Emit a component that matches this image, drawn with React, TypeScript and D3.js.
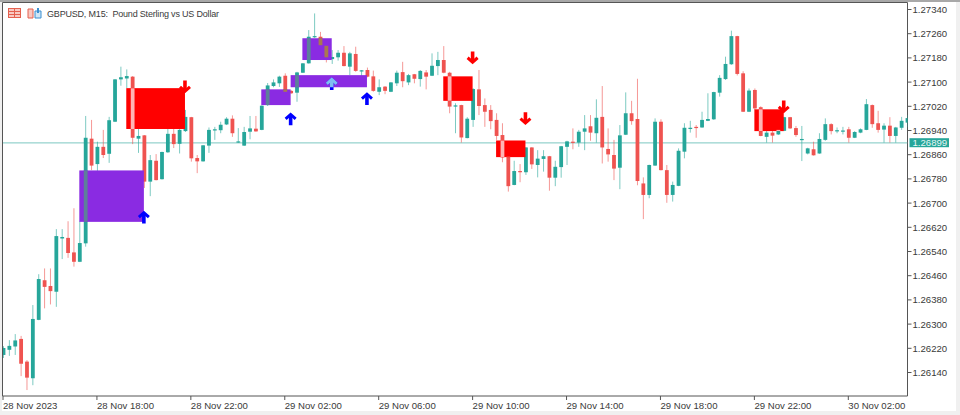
import React from "react";
import * as d3 from "d3";

const W = 960, H = 415;
const plotL = 3, plotR = 907.5, plotT = 3, plotB = 396;

const symbol = "GBPUSD, M15:  Pound Sterling vs US Dollar";
const lastPrice = 1.26899;

const priceTicks = [1.2734,1.2726,1.2718,1.271,1.2702,1.2694,1.2686,1.2678,1.267,1.2662,1.2654,1.2646,1.2638,1.263,1.2622,1.2614];
const timeTickIndex = [0,16,32,48,64,80,96,112,128,144];
const timeTickLabels = ["28 Nov 2023","28 Nov 18:00","28 Nov 22:00","29 Nov 02:00","29 Nov 06:00","29 Nov 10:00","29 Nov 14:00","29 Nov 18:00","29 Nov 22:00","30 Nov 02:00"];

const opens = [
1.26198,1.26215,1.26226,1.26251,1.26176,1.26121,1.26314,1.26445,1.26426,1.26407,1.26583,1.26585,1.26537,1.26506,1.26567,1.26913,
1.26829,1.26886,1.26863,1.26969,1.27109,1.27112,1.27118,1.26913,1.26924,1.26771,1.26840,1.26779,1.26868,1.26929,1.26896,1.26938,
1.26984,1.26849,1.26838,1.26890,1.26941,1.26941,1.26960,1.26979,1.26900,1.26890,1.26936,1.26946,1.26942,1.27024,1.27087,1.27096,
1.27121,1.27071,1.27065,1.27131,1.27162,1.27250,1.27250,1.27220,1.27176,1.27182,1.27197,1.27151,1.27193,1.27137,1.27140,1.27119,
1.27068,1.27085,1.27068,1.27096,1.27133,1.27099,1.27126,1.27110,1.27132,1.27121,1.27153,1.27173,1.27131,1.27021,1.27024,1.26915,
1.26975,1.27076,1.27024,1.27008,1.26975,1.26925,1.26853,1.26760,1.26806,1.26802,1.26884,1.26826,1.26846,1.26855,1.26784,1.26819,
1.26886,1.26903,1.26900,1.26936,1.26954,1.26931,1.26985,1.26879,1.26859,1.26817,1.26926,1.26997,1.26978,1.26765,1.26727,1.26824,
1.26969,1.26809,1.26727,1.26757,1.26870,1.26947,1.26952,1.26950,1.26972,1.26977,1.27065,1.27110,1.27159,1.27252,1.27129,1.27002,
1.27074,1.27017,1.26919,1.26933,1.26927,1.26939,1.26984,1.26948,1.26909,1.26864,1.26878,1.26864,1.26909,1.26961,1.26937,1.26937,
1.26944,1.26916,1.26933,1.26942,1.27024,1.26964,1.26943,1.26956,1.26922,1.26949,1.26966];
const highs = [
1.26227,1.26247,1.26267,1.26261,1.26181,1.26363,1.26465,1.26484,1.26484,1.26614,1.26614,1.26640,1.26683,1.26640,1.26988,1.26975,
1.26903,1.26942,1.26985,1.27110,1.27151,1.27142,1.27120,1.26948,1.26925,1.26859,1.26862,1.26870,1.26948,1.26948,1.26952,1.27008,
1.26985,1.26859,1.26892,1.26950,1.26952,1.26969,1.26984,1.26990,1.26948,1.26952,1.26988,1.26988,1.27023,1.27097,1.27109,1.27121,
1.27129,1.27074,1.27134,1.27163,1.27272,1.27327,1.27266,1.27239,1.27206,1.27206,1.27219,1.27200,1.27217,1.27140,1.27148,1.27138,
1.27109,1.27087,1.27100,1.27138,1.27167,1.27127,1.27127,1.27140,1.27140,1.27195,1.27200,1.27219,1.27134,1.27030,1.27025,1.26984,
1.27080,1.27140,1.27046,1.27024,1.26997,1.26964,1.26889,1.26840,1.26829,1.26885,1.26885,1.26875,1.26875,1.26856,1.26840,1.26889,
1.26906,1.26947,1.26942,1.26991,1.26991,1.27043,1.27087,1.26947,1.26909,1.26958,1.27066,1.27038,1.27111,1.26785,1.26827,1.26980,
1.26977,1.26826,1.26771,1.26881,1.26964,1.26972,1.26958,1.27002,1.27063,1.27068,1.27123,1.27184,1.27270,1.27253,1.27136,1.27079,
1.27079,1.27020,1.26942,1.26944,1.26947,1.26985,1.26985,1.26955,1.26955,1.26883,1.26903,1.26931,1.26980,1.26964,1.26950,1.26952,
1.26952,1.26938,1.26947,1.27044,1.27026,1.27005,1.26964,1.26984,1.26952,1.26985,1.26991];
const lows = [
1.26188,1.26195,1.26198,1.26128,1.26082,1.26098,1.26313,1.26352,1.26365,1.26357,1.26515,1.26519,1.26490,1.26505,1.26556,1.26809,
1.26776,1.26849,1.26833,1.26968,1.27088,1.27080,1.26895,1.26866,1.26750,1.26723,1.26775,1.26778,1.26866,1.26882,1.26864,1.26935,
1.26837,1.26799,1.26837,1.26866,1.26909,1.26931,1.26958,1.26919,1.26899,1.26889,1.26911,1.26936,1.26941,1.27021,1.27083,1.27084,
1.27041,1.27061,1.27035,1.27130,1.27161,1.27246,1.27221,1.27165,1.27160,1.27171,1.27152,1.27123,1.27134,1.27113,1.27116,1.27068,
1.27057,1.27060,1.27067,1.27087,1.27083,1.27090,1.27096,1.27085,1.27076,1.27120,1.27123,1.27129,1.26997,1.26931,1.26900,1.26914,
1.26952,1.26991,1.26952,1.26944,1.26909,1.26835,1.26738,1.26759,1.26769,1.26793,1.26813,1.26785,1.26804,1.26741,1.26756,1.26784,
1.26826,1.26878,1.26886,1.26875,1.26906,1.26900,1.26831,1.26837,1.26776,1.26746,1.26925,1.26959,1.26759,1.26647,1.26716,1.26823,
1.26808,1.26701,1.26705,1.26756,1.26848,1.26933,1.26916,1.26949,1.26971,1.26975,1.27052,1.27107,1.27157,1.27122,1.27001,1.27001,
1.27008,1.26921,1.26900,1.26900,1.26925,1.26938,1.26945,1.26919,1.26839,1.26861,1.26857,1.26863,1.26906,1.26927,1.26931,1.26927,
1.26900,1.26915,1.26931,1.26941,1.26949,1.26933,1.26900,1.26900,1.26900,1.26942,1.26951];
const closes = [
1.26221,1.26228,1.26246,1.26169,1.26123,1.26317,1.26449,1.26423,1.26409,1.26591,1.26588,1.26535,1.26506,1.26568,1.26916,1.26824,
1.26886,1.26859,1.26974,1.27109,1.27116,1.27120,1.26916,1.26922,1.26771,1.26842,1.26776,1.26869,1.26929,1.26895,1.26942,1.26985,
1.26848,1.26838,1.26891,1.26942,1.26944,1.26959,1.26979,1.26931,1.26904,1.26935,1.26947,1.26937,1.27022,1.27089,1.27099,1.27118,
1.27068,1.27063,1.27132,1.27162,1.27250,1.27252,1.27222,1.27182,1.27183,1.27197,1.27153,1.27195,1.27137,1.27139,1.27118,1.27071,
1.27083,1.27071,1.27099,1.27131,1.27103,1.27123,1.27111,1.27137,1.27118,1.27154,1.27173,1.27131,1.27019,1.27023,1.26917,1.26979,
1.27077,1.27021,1.27002,1.26971,1.26922,1.26851,1.26756,1.26806,1.26802,1.26884,1.26828,1.26847,1.26855,1.26784,1.26820,1.26888,
1.26904,1.26900,1.26936,1.26947,1.26933,1.26982,1.26884,1.26861,1.26814,1.26924,1.26997,1.26971,1.26773,1.26727,1.26826,1.26969,
1.26809,1.26727,1.26760,1.26873,1.26949,1.26949,1.26948,1.26975,1.26978,1.27067,1.27114,1.27160,1.27252,1.27127,1.27002,1.27072,
1.27013,1.26922,1.26933,1.26923,1.26942,1.26984,1.26947,1.26925,1.26912,1.26881,1.26858,1.26912,1.26961,1.26938,1.26941,1.26940,
1.26916,1.26935,1.26944,1.27027,1.26961,1.26942,1.26956,1.26922,1.26950,1.26972,1.26981];

const boxFrom  = [13,44,49,51,21,75,84,128];
const boxTo    = [24,49,62,56,31,80,89,133];
const boxTop   = [1.26808,1.27076,1.27123,1.27245,1.27080,1.27119,1.26907,1.27010];
const boxBot   = [1.26638,1.27024,1.27083,1.27173,1.26945,1.27038,1.26852,1.26938];
const boxKind  = ["buy","buy","buy","buy","sell","sell","sell","sell"];

const arrowIndex = [24,49,56,62,31,80,89,133];
const arrowTip   = [1.26674,1.26999,1.27115,1.27066,1.27064,1.27160,1.26959,1.26998];
const arrowKind  = ["up","up","up","up","down","down","down","down"];
const arrowInBox = [false,false,true,false,false,false,false,false];

const GREEN = "#26a69a", RED = "#ef5350";
const FONT = "'Liberation Sans', Arial, sans-serif";

const x = d3.scaleLinear().domain([0, 154]).range([3.5, 907.5]);
const y = d3.scaleLinear().domain([1.2614, 1.2734]).range([372.5, 9.5]);

const candles = opens.map((o, i) => ({ i, o, h: highs[i], l: lows[i], c: closes[i], up: closes[i] >= o }));
const boxes = boxFrom.map((f, k) => ({ k, x0: x(f) - 0.5, x1: x(boxTo[k]) - 0.5, y0: y(boxTop[k]), y1: y(boxBot[k]), buy: boxKind[k] === "buy" }));

function ArrowShape({ color }: { color: string }) {
  return (
    <g fill="none" stroke={color} strokeLinejoin="miter">
      <path d="M0,2 L0,12.5" strokeWidth={3.6} />
      <path d="M-5,6.2 L0,1.8 L5,6.2" strokeWidth={3} />
    </g>
  );
}

export default function App() {
  return (
    <svg width={W} height={H} viewBox={`0 0 ${W} ${H}`} style={{ position: "absolute", left: 0, top: 0, background: "#ffffff" }} fontFamily={FONT}>
      <defs>
        <clipPath id="plot"><rect x={plotL} y={plotT} width={plotR - plotL} height={plotB - plotT} /></clipPath>
        {boxes.map(b => (
          <clipPath key={b.k} id={`box${b.k}`}><rect x={b.x0} y={b.y0} width={b.x1 - b.x0} height={b.y1 - b.y0} /></clipPath>
        ))}
      </defs>

      {/* window chrome */}
      <rect x={0} y={0} width={W} height={H} fill="#ffffff" />
      <rect x={0} y={0} width={2} height={H} fill="#f0f0f0" />
      <rect x={0} y={411} width={W} height={4} fill="#f0f0f0" />
      <rect x={956} y={0} width={4} height={H} fill="#f0f0f0" />
      <rect x={0} y={0} width={W} height={2} fill="#a8a8a8" />
      <path d={`M${plotL - 0.5},2.5 H${plotR} V${plotB} H${plotL - 0.5} Z`} fill="none" stroke="#555" strokeWidth={1} />

      <g clipPath="url(#plot)">
        <line x1={plotL} x2={plotR} y1={y(lastPrice)} y2={y(lastPrice)} stroke="#7cc8c1" strokeWidth={1} />
        {candles.map(c => {
          const col = c.up ? GREEN : RED;
          const top = y(Math.max(c.o, c.c));
          const bot = y(Math.min(c.o, c.c));
          return (
            <g key={c.i}>
              <line x1={x(c.i)} x2={x(c.i)} y1={y(c.h)} y2={y(c.l)} stroke={col} strokeOpacity={0.6} strokeWidth={1} />
              <rect x={x(c.i) - 1.9} width={3.8} y={top} height={Math.max(1.2, bot - top)} fill={col} />
            </g>
          );
        })}

        {boxes.map(b => (
          <rect key={b.k} x={b.x0} y={b.y0} width={b.x1 - b.x0} height={b.y1 - b.y0} fill={b.buy ? "#8a2be2" : "#ff0000"} />
        ))}

        {/* candle bodies seen through the rectangles (MT5 XOR painting) */}
        {boxes.map(b => (
          <g key={b.k} clipPath={`url(#box${b.k})`}>
            {candles.map(c => {
              const top = y(Math.max(c.o, c.c));
              const bot = y(Math.min(c.o, c.c));
              if (x(c.i) < b.x0 + 1 || x(c.i) > b.x1 - 1 || bot - top < 3) return null;
              const col = b.buy ? (c.up ? "#5d7f9b" : "#a9794f") : "#ffb4b4";
              return <rect key={c.i} x={x(c.i) - 1.9} width={3.8} y={top} height={bot - top} fill={col} />;
            })}
          </g>
        ))}

        {arrowIndex.map((idx, k) => {
          const up = arrowKind[k] === "up";
          const tx = x(idx) - 0.5;
          const ty = y(arrowTip[k]);
          const tf = up ? `translate(${tx},${ty})` : `translate(${tx},${ty}) scale(1,-1)`;
          const boxIdx = boxes.findIndex(b => b.buy && tx > b.x0 && tx < b.x1 && ty > b.y0 && ty < b.y1);
          return (
            <g key={k}>
              <g transform={tf}><ArrowShape color={up ? "#0000ff" : "#ff0000"} /></g>
              {arrowInBox[k] && boxIdx >= 0 && (
                <g clipPath={`url(#box${boxIdx})`}>
                  <g transform={tf}><ArrowShape color="#7fbdf2" /></g>
                </g>
              )}
            </g>
          );
        })}
      </g>

      {/* price axis */}
      {priceTicks.map(p => (
        <g key={p}>
          <line x1={plotR} x2={plotR + 4} y1={y(p)} y2={y(p)} stroke="#555" />
          <text x={plotR + 5} y={y(p) + 3.4} fontSize={9.6} fill="#3a3a3a">{p.toFixed(5)}</text>
        </g>
      ))}
      <rect x={plotR + 2} y={y(lastPrice) - 4.7} width={39.5} height={9} fill={GREEN} />
      <text x={plotR + 5} y={y(lastPrice) + 3.4} fontSize={9.6} fill="#e8f6f4">{lastPrice.toFixed(5)}</text>

      {/* time axis */}
      {timeTickIndex.map((idx, k) => (
        <g key={idx}>
          <line x1={x(idx) - 0.5} x2={x(idx) - 0.5} y1={plotB} y2={plotB + 4} stroke="#555" />
          <text x={x(idx) - 0.5} y={408.5} fontSize={9.6} fill="#3a3a3a">{timeTickLabels[k]}</text>
        </g>
      ))}

      {/* header */}
      <g>
        <rect x={8.5} y={8.5} width={12} height={9} fill="#f8c9c2" stroke="#e4604e" />
        <path d="M9,11.5 H20 M9,14.5 H20 M14.5,9 V17" stroke="#e4604e" strokeWidth={1} />
        <path d="M28,9 H33 V18 H28 Z" fill="#f8c9c2" stroke="#e4604e" />
        <path d="M35,11 H41 V18 H35 Z" fill="#cfe6f6" stroke="#3b8fd0" />
        <path d="M38,8 V13" stroke="#3b8fd0" strokeWidth={2} />
      </g>
      <text x={47} y={17} fontSize={9} fill="#3a3a3a" textLength={172} lengthAdjust="spacing" style={{ whiteSpace: "pre" }}>{symbol}</text>
    </svg>
  );
}
